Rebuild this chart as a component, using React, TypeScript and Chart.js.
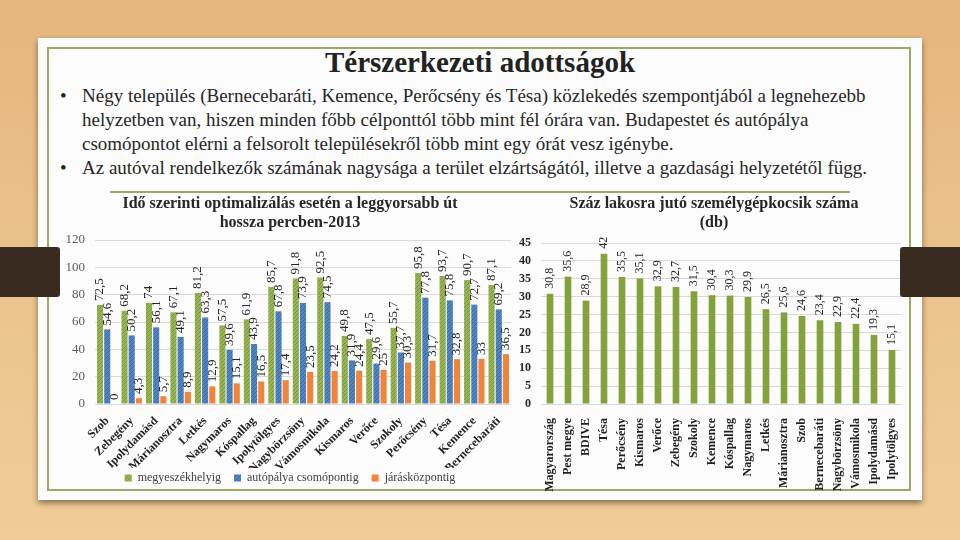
import React, { useEffect, useRef } from 'react';
import { Chart, registerables } from 'chart.js';

Chart.register(...registerables);

const SERIF = '"Liberation Serif", "Times New Roman", serif';

// ---- Left chart data ----
const travelPlaces = ['Szob', 'Zebegény', 'Ipolydamásd', 'Márianosztra', 'Letkés', 'Nagymaros', 'Kóspallag', 'Ipolytölgyes', 'Nagybörzsöny', 'Vámosmikola', 'Kismaros', 'Verőce', 'Szokoly', 'Perőcsény', 'Tésa', 'Kemence', 'Bernecebaráti'];
const toCountySeat = [72.5, 68.2, 74, 67.1, 81.2, 57.5, 61.9, 85.7, 91.8, 92.5, 49.8, 47.5, 55.7, 95.8, 93.7, 90.7, 87.1];
const toMotorwayJunction = [54.6, 50.2, 56.1, 49.1, 63.3, 39.6, 43.9, 67.8, 73.9, 74.5, 31.9, 29.6, 37.7, 77.8, 75.8, 72.7, 69.2];
const toDistrictCentre = [0, 4.3, 5.7, 8.9, 12.9, 15.1, 16.5, 17.4, 23.5, 24.2, 24.4, 25, 30.3, 31.7, 32.8, 33, 36.5];
const travelSeriesNames = ['megyeszékhelyig', 'autópálya csomópontig', 'járásközpontig'];
const travelTitle = ['Idő szerinti optimalizálás esetén a leggyorsabb út', 'hossza percben-2013'];
const travelAxisMax = 120;
const travelAxisStep = 20;

// ---- Right chart data ----
const carPlaces = ['Magyarország', 'Pest megye', 'BDIVE', 'Tésa', 'Perőcsény', 'Kismaros', 'Verőce', 'Zebegény', 'Szokoly', 'Kemence', 'Kóspallag', 'Nagymaros', 'Letkés', 'Márianosztra', 'Szob', 'Bernecebaráti', 'Nagybörzsöny', 'Vámosmikola', 'Ipolydamásd', 'Ipolytölgyes'];
const carsPer100 = [30.8, 35.6, 28.9, 42, 35.5, 35.1, 32.9, 32.7, 31.5, 30.4, 30.3, 29.9, 26.5, 25.6, 24.6, 23.4, 22.9, 22.4, 19.3, 15.1];
const carTitle = ['Száz lakosra jutó személygépkocsik száma', '(db)'];
const carAxisMax = 45;
const carAxisStep = 5;

// ---- Slide text ----
const slideTitle = 'Térszerkezeti adottságok';
const bulletLines = [
  { bullet: true, text: 'Négy település (Bernecebaráti, Kemence, Perőcsény és Tésa) közlekedés szempontjából a legnehezebb' },
  { bullet: false, text: 'helyzetben van, hiszen minden főbb célponttól több mint fél órára van. Budapestet és autópálya' },
  { bullet: false, text: 'csomópontot elérni a felsorolt településekről több mint egy órát vesz igénybe.' },
  { bullet: true, text: 'Az autóval rendelkezők számának nagysága a terület elzártságától, illetve a gazdasági helyzetétől függ.' },
];

const valueLabels = {
  id: 'valueLabels',
  afterDatasetsDraw(chart: any, _args: any, opts: any) {
    const ctx = chart.ctx;
    ctx.save();
    ctx.font = `${opts.size}px ${SERIF}`;
    ctx.fillStyle = opts.color;
    ctx.textAlign = 'left';
    ctx.textBaseline = 'middle';
    chart.data.datasets.forEach((ds: any, di: number) => {
      const meta = chart.getDatasetMeta(di);
      meta.data.forEach((el: any, i: number) => {
        const txt = String(ds.data[i]).replace('.', ',');
        ctx.save();
        ctx.translate(el.x, el.y - opts.offset);
        ctx.rotate(-Math.PI / 2);
        ctx.fillText(txt, 0, 0);
        ctx.restore();
      });
    });
    ctx.restore();
  },
};

function hatch(base: string, line: string) {
  const c = document.createElement('canvas');
  c.width = 4;
  c.height = 4;
  const g = c.getContext('2d')!;
  g.fillStyle = base;
  g.fillRect(0, 0, 4, 4);
  g.strokeStyle = line;
  g.lineWidth = 1;
  g.beginPath();
  g.moveTo(-1, 5);
  g.lineTo(5, -1);
  g.moveTo(-1, 1);
  g.lineTo(1, -1);
  g.moveTo(3, 5);
  g.lineTo(5, 3);
  g.stroke();
  return g.createPattern(c, 'repeat')!;
}

function TravelChart() {
  const ref = useRef<HTMLCanvasElement>(null);
  useEffect(() => {
    const chart = new Chart(ref.current!, {
      type: 'bar',
      data: {
        labels: travelPlaces,
        datasets: [
          { label: travelSeriesNames[0], data: toCountySeat, backgroundColor: hatch('#96b452', '#7a983a') as any },
          { label: travelSeriesNames[1], data: toMotorwayJunction, backgroundColor: hatch('#5085c2', '#3c6aa4') as any },
          { label: travelSeriesNames[2], data: toDistrictCentre, backgroundColor: '#ef843a' },
        ],
      },
      options: {
        responsive: false,
        animation: false,
        datasets: { bar: { categoryPercentage: 0.88, barPercentage: 0.85 } } as any,
        layout: { padding: 0 },
        plugins: {
          title: {
            display: true,
            text: travelTitle,
            color: '#262626',
            font: { family: SERIF, size: 16, weight: 'bold', lineHeight: 1.15 },
            padding: { top: 5, bottom: 8.2 },
          },
          legend: {
            position: 'bottom',
            labels: {
              boxWidth: 7,
              boxHeight: 7,
              padding: 4,
              color: '#404040',
              font: { family: SERIF, size: 12 },
              generateLabels(c: any) {
                const items = (Chart.defaults.plugins.legend.labels as any).generateLabels(c);
                return items.map((it: any, i: number) => ({ ...it, text: i < items.length - 1 ? it.text + '   ' : it.text }));
              },
            },
          },
          tooltip: { enabled: false },
          valueLabels: { size: 13, offset: 4, color: '#262626' },
        } as any,
        scales: {
          x: {
            grid: { display: false },
            border: { display: false },
            ticks: { autoSkip: false, minRotation: 45, maxRotation: 45, padding: 2, color: '#1f1f1f', font: { family: SERIF, size: 12, weight: 'bold' } },
            afterFit(s: any) { s.height = 64; },
          },
          y: {
            min: 0,
            max: travelAxisMax,
            ticks: { stepSize: travelAxisStep, padding: 10, color: '#595959', font: { family: SERIF, size: 13 } },
            grid: { color: '#d9d9d9', drawTicks: false },
            border: { display: false },
            afterFit(s: any) { s.width = 45; },
          },
          yR: {
            type: 'linear',
            position: 'right',
            display: true,
            grid: { display: false },
            border: { display: false },
            ticks: { display: false },
            afterFit(s: any) { s.width = 19; },
          },
        } as any,
      },
      plugins: [valueLabels as any],
    });
    return () => chart.destroy();
  }, []);
  return <canvas ref={ref} width={480} height={304} style={{ position: 'absolute', left: 50, top: 190, width: 480, height: 304 }} />;
}

function CarChart() {
  const ref = useRef<HTMLCanvasElement>(null);
  useEffect(() => {
    const chart = new Chart(ref.current!, {
      type: 'bar',
      data: {
        labels: carPlaces,
        datasets: [{ label: carTitle.join(' '), data: carsPer100, backgroundColor: '#84a23a' }],
      },
      options: {
        responsive: false,
        animation: false,
        datasets: { bar: { categoryPercentage: 1, barPercentage: 0.37 } } as any,
        layout: { padding: 0 },
        plugins: {
          title: {
            display: true,
            text: carTitle,
            color: '#262626',
            font: { family: SERIF, size: 16, weight: 'bold', lineHeight: 1.15 },
            padding: { top: 5, bottom: 11.2 },
          },
          legend: { display: false },
          tooltip: { enabled: false },
          valueLabels: { size: 12, offset: 5, color: '#262626' },
        } as any,
        scales: {
          x: {
            grid: { display: false },
            border: { display: false },
            ticks: { autoSkip: false, minRotation: 90, maxRotation: 90, padding: 6, color: '#1f1f1f', font: { family: SERIF, size: 12, weight: 'bold' } },
            afterFit(s: any) { s.height = 90; },
          },
          y: {
            min: 0,
            max: carAxisMax,
            ticks: { stepSize: carAxisStep, padding: 10, color: '#262626', font: { family: SERIF, size: 12, weight: 'bold' } },
            grid: { color: '#d9d9d9', drawTicks: false },
            border: { display: false },
            afterFit(s: any) { s.width = 31; },
          },
          yR: {
            type: 'linear',
            position: 'right',
            display: true,
            grid: { display: false },
            border: { display: false },
            ticks: { display: false },
            afterFit(s: any) { s.width = 17; },
          },
        } as any,
      },
      plugins: [valueLabels as any],
    });
    return () => chart.destroy();
  }, []);
  return <canvas ref={ref} width={408} height={304} style={{ position: 'absolute', left: 510, top: 190, width: 408, height: 304 }} />;
}

export default function App() {
  return (
    <div
      style={{
        position: 'fixed',
        left: 0,
        top: 0,
        width: 960,
        height: 540,
        overflow: 'hidden',
        fontFamily: SERIF,
        background: 'linear-gradient(180deg, #e5b67e 0%, #ebc18a 45%, #f0cc97 100%)',
      }}
    >
      <div style={{ position: 'absolute', left: 38, top: 38, width: 884, height: 462, background: '#fcfcfc', boxShadow: '0 3px 6px rgba(0,0,0,0.45)' }} />
      <div style={{ position: 'absolute', left: 47, top: 47, width: 864, height: 444, border: '2px solid #9aab68', boxSizing: 'border-box' }} />
      <div
        style={{
          position: 'absolute',
          left: 0,
          top: 47,
          width: 960,
          textAlign: 'center',
          fontSize: 29,
          lineHeight: '30px',
          fontWeight: 'bold',
          color: '#222',
          whiteSpace: 'nowrap',
        }}
      >
        {slideTitle}
      </div>
      <div style={{ position: 'absolute', left: 0, top: 84, width: 960, fontSize: 19, lineHeight: '24px', color: '#262626' }}>
        {bulletLines.map((l, i) => (
          <div key={i} style={{ position: 'relative', height: 24, whiteSpace: 'nowrap' }}>
            {l.bullet && <span style={{ position: 'absolute', left: 60 }}>•</span>}
            <span style={{ position: 'absolute', left: 82 }}>{l.text}</span>
          </div>
        ))}
      </div>
      <div style={{ position: 'absolute', left: 110, top: 191, width: 740, height: 2, background: '#9aab68' }} />
      <TravelChart />
      <CarChart />
      <div style={{ position: 'absolute', left: 0, top: 247, width: 60, height: 50, background: '#3a2b21', borderRadius: '0 3px 3px 0' }} />
      <div style={{ position: 'absolute', left: 900, top: 247, width: 60, height: 50, background: '#3a2b21', borderRadius: '3px 0 0 3px' }} />
    </div>
  );
}
